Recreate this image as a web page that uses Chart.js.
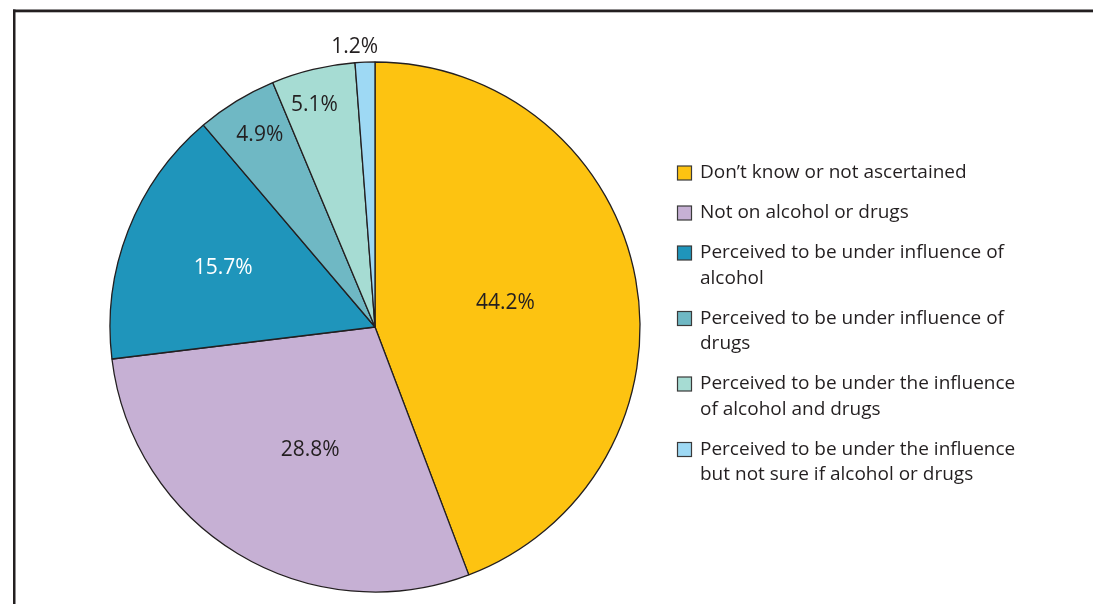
<!DOCTYPE html>
<html>
<head>
<meta charset="utf-8">
<title>Driver condition</title>
<script src="https://cdn.jsdelivr.net/npm/chart.js@4.4.1/dist/chart.umd.min.js"></script>
<style>
  html, body { margin: 0; padding: 0; background: #ffffff; }
  #wrap { position: relative; width: 1093px; height: 604px; }
</style>
</head>
<body>
<div id="wrap"><canvas id="chart" width="1093" height="604"></canvas></div>
<script>
// Categories (legend entries, pre-broken into lines)
const categories = [
  ["Don’t know or not ascertained"],
  ["Not on alcohol or drugs"],
  ["Perceived to be under influence of", "alcohol"],
  ["Perceived to be under influence of", "drugs"],
  ["Perceived to be under the influence", "of alcohol and drugs"],
  ["Perceived to be under the influence", "but not sure if alcohol or drugs"]
];
// Share of each category, percent
const shares = [44.2, 28.8, 15.7, 4.9, 5.1, 1.2];

const sliceColors = ["#FDC311", "#C6B0D4", "#1F95BB", "#6FB8C4", "#A6DCD3", "#9ED9F4"];
const labelColors = ["#231F20", "#231F20", "#FFFFFF", "#231F20", "#231F20", "#231F20"];
// value label placement: radial fraction of the pie radius, and angular nudge (radians)
const labelRadius = [0.5, 0.525, 0.615, 0.845, 0.87, 1.06];
const labelNudge = [0, -0.06, 0, 0.01, -0.03, -0.035];
const FONT = "'Open Sans', 'DejaVu Sans', sans-serif";
const INK = "#231F20";

const pieLabels = {
  id: "pieLabels",
  afterDatasetsDraw(chart) {
    const ctx = chart.ctx;
    const meta = chart.getDatasetMeta(0);
    ctx.save();
    ctx.font = "21px " + FONT;
    ctx.textAlign = "center";
    ctx.textBaseline = "middle";
    meta.data.forEach((arc, i) => {
      const p = arc.getProps(["x", "y", "startAngle", "endAngle", "outerRadius"], true);
      const mid = (p.startAngle + p.endAngle) / 2 + labelNudge[i];
      const r = p.outerRadius * labelRadius[i];
      ctx.fillStyle = labelColors[i];
      ctx.fillText(shares[i].toFixed(1) + "%", p.x + Math.cos(mid) * r, p.y + Math.sin(mid) * r);
    });
    ctx.restore();
  }
};

const sideLegend = {
  id: "sideLegend",
  beforeDraw(chart) {
    const ctx = chart.ctx;
    ctx.save();
    // frame lines along top and left
    ctx.fillStyle = INK;
    ctx.fillRect(13, 9.5, 1093, 2.8);
    ctx.fillRect(13, 9.5, 2.5, 604);
    ctx.restore();
  },
  afterDraw(chart) {
    const ctx = chart.ctx;
    const ds = chart.data.datasets[0];
    ctx.save();
    ctx.font = "19px " + FONT;
    ctx.textAlign = "left";
    ctx.textBaseline = "middle";
    let y = 173;
    chart.data.labels.forEach((lines, i) => {
      ctx.fillStyle = ds.backgroundColor[i];
      ctx.fillRect(677.5, y - 7, 14, 14);
      ctx.strokeStyle = "#3a3a3a";
      ctx.lineWidth = 1.2;
      ctx.strokeRect(677.5, y - 7, 14, 14);
      ctx.fillStyle = INK;
      lines.forEach((t, k) => ctx.fillText(t, 700, y + k * 25.5));
      y += (lines.length - 1) * 25.5 + 40;
    });
    ctx.restore();
  }
};

new Chart(document.getElementById("chart"), {
  type: "pie",
  data: {
    labels: categories,
    datasets: [{
      data: shares,
      backgroundColor: sliceColors,
      borderColor: INK,
      borderWidth: 1.3,
      hoverOffset: 0,
      radius: 265
    }]
  },
  options: {
    responsive: false,
    animation: false,
    events: [],
    layout: { padding: { left: 110, top: 62, right: 453, bottom: 12 } },
    plugins: {
      legend: { display: false },
      tooltip: { enabled: false }
    }
  },
  plugins: [pieLabels, sideLegend]
});
</script>
</body>
</html>
